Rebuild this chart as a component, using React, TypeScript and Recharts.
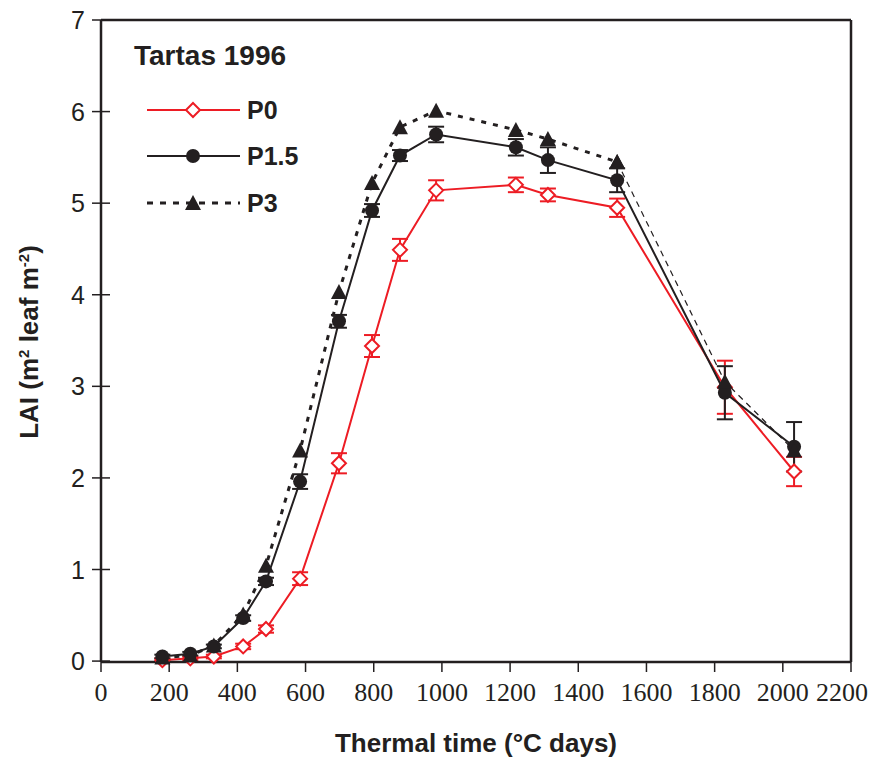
import React from 'react';
import { LineChart, Line, XAxis, YAxis, ErrorBar, ReferenceLine, Legend, Label } from 'recharts';

const thermalTime = [180, 262, 331, 417, 484, 584, 698, 795, 877, 983, 1217, 1311, 1514, 1830, 2033];
const p0 = [0.01, 0.03, 0.05, 0.16, 0.35, 0.9, 2.16, 3.44, 4.49, 5.14, 5.2, 5.09, 4.95, 2.99, 2.07];
const p0Err = [0.02, 0.02, 0.02, 0.03, 0.04, 0.07, 0.11, 0.12, 0.12, 0.11, 0.08, 0.07, 0.1, 0.29, 0.16];
const p15 = [0.05, 0.08, 0.16, 0.47, 0.87, 1.96, 3.71, 4.92, 5.52, 5.75, 5.61, 5.47, 5.25, 2.93, 2.34];
const p15Err = [0.02, 0.02, 0.02, 0.03, 0.04, 0.08, 0.07, 0.07, 0.06, 0.085, 0.09, 0.14, 0.13, 0.29, 0.27];
const p3 = [0.04, 0.06, 0.17, 0.51, 1.04, 2.3, 4.03, 5.22, 5.83, 6.01, 5.8, 5.7, 5.45, 3.05, 2.3];

const xTicks = [0, 200, 400, 600, 800, 1000, 1200, 1400, 1600, 1800, 2000, 2200];
const yTicks = [0, 1, 2, 3, 4, 5, 6, 7];
const seriesNames = ['P0', 'P1.5', 'P3'];
const title = 'Tartas 1996';

const LATE_START = 12;
const data = thermalTime.map((t, i) => ({
  t,
  p0: p0[i],
  p0Err: p0Err[i],
  p15: p15[i],
  p15Err: p15Err[i],
  p3Early: i <= LATE_START ? p3[i] : null,
  p3Late: i >= LATE_START ? p3[i] : null,
}));

const INK = '#231f20';
const RED = '#ed1c24';

const diamond = (cx: number, cy: number, key?: any) => (
  <path key={key} d={`M${cx},${cy - 7} L${cx + 7},${cy} L${cx},${cy + 7} L${cx - 7},${cy} Z`} fill="#fff" stroke={RED} strokeWidth={2} />
);
const circle = (cx: number, cy: number, key?: any) => <circle key={key} cx={cx} cy={cy} r={7} fill={INK} />;
const triangle = (cx: number, cy: number, key?: any) => (
  <path key={key} d={`M${cx},${cy - 8} L${cx + 8},${cy + 7} L${cx - 8},${cy + 7} Z`} fill={INK} />
);

const mkDot = (fn: any) => (props: any) => {
  const { cx, cy, index, value } = props;
  if (cx == null || cy == null || value == null) return <g key={`e${index}`} />;
  return fn(cx, cy, `d${index}`);
};

const YTick = (props: any) => {
  const { x, y, payload } = props;
  return (
    <g>
      <line x1={x - 9} x2={x + 9} y1={y} y2={y} stroke={INK} strokeWidth={1.5} />
      <text x={x - 16} y={y} dy="0.36em" textAnchor="end" fontFamily="'Liberation Sans', Arial, sans-serif" fontSize={25} fill={INK}>
        {payload.value}
      </text>
    </g>
  );
};

const XTick = (props: any) => {
  const { x, y, payload } = props;
  const isLast = payload.value === xTicks[xTicks.length - 1];
  return (
    <g>
      <line x1={x} x2={x} y1={y} y2={y + 10} stroke={INK} strokeWidth={1.5} />
      <text
        x={isLast ? x + 17 : x}
        y={y + 39}
        textAnchor={isLast ? 'end' : 'middle'}
        fontFamily="'Liberation Serif', 'Times New Roman', serif"
        fontSize={26}
        fill={INK}
      >
        {payload.value}
      </text>
    </g>
  );
};

const LegendBox = () => {
  const rows = [
    { y: 102, name: seriesNames[0], stroke: RED, dash: undefined, mark: diamond },
    { y: 148, name: seriesNames[1], stroke: INK, dash: undefined, mark: circle },
    { y: 195, name: seriesNames[2], stroke: INK, dash: '6 7', mark: triangle },
  ];
  return (
    <svg width={320} height={230} style={{ overflow: 'visible' }}>
      <text x={126} y={57} fontFamily="'Liberation Sans', Arial, sans-serif" fontWeight="bold" fontSize={28} fill={INK}>
        {title}
      </text>
      {rows.map((r) => (
        <g key={r.name}>
          <line x1={139} x2={232} y1={r.y} y2={r.y} stroke={r.stroke} strokeWidth={r.dash ? 3 : 2} strokeDasharray={r.dash} />
          {r.mark(185, r.y)}
          <text x={239} y={r.y} dy="0.36em" fontFamily="'Liberation Sans', Arial, sans-serif" fontWeight="bold" fontSize={25} fill={INK}>
            {r.name}
          </text>
        </g>
      ))}
    </svg>
  );
};

const YLabel = () => (
  <text
    x={21}
    y={334}
    transform="rotate(-90, 21, 334)"
    textAnchor="middle"
    dy="0.36em"
    fontFamily="'Liberation Sans', Arial, sans-serif"
    fontWeight="bold"
    fontSize={26}
    fill={INK}
  >
    LAI (m<tspan dy={-9} fontSize={15}>2</tspan>
    <tspan dy={9}> leaf  m</tspan>
    <tspan dy={-9} fontSize={15}>-2</tspan>
    <tspan dy={9}>)</tspan>
  </text>
);

export default function App() {
  return (
    <div>
      <style>{'html{overflow:hidden;} .recharts-surface{overflow:visible;} .recharts-wrapper{overflow:visible;}'}</style>
      <LineChart width={872} height={750} data={data} margin={{ top: 12, right: 29, left: 0, bottom: 0 }}>
        <XAxis
          dataKey="t"
          type="number"
          domain={[0, 2200]}
          ticks={xTicks}
          interval={0}
          height={96}
          tickSize={0}
          tickMargin={0}
          tickLine={false}
          tick={<XTick />}
          axisLine={{ stroke: INK, strokeWidth: 2.5 }}
        >
          <Label
            value="Thermal time (°C days)"
            position="insideBottom"
            offset={6}
            style={{ fontFamily: "'Liberation Sans', Arial, sans-serif", fontWeight: 'bold', fontSize: 26, fill: INK }}
          />
        </XAxis>
        <YAxis
          type="number"
          domain={[0, 7]}
          ticks={yTicks}
          interval={0}
          width={93}
          tickSize={0}
          tickMargin={0}
          tickLine={false}
          tick={<YTick />}
          axisLine={{ stroke: INK, strokeWidth: 2.5 }}
        >
          <Label content={<YLabel />} />
        </YAxis>
        <ReferenceLine y={7} stroke={INK} strokeWidth={2.5} />
        <ReferenceLine x={2200} stroke={INK} strokeWidth={2.5} />
        <Legend layout="horizontal" verticalAlign="middle" align="center" wrapperStyle={{ position: 'absolute', top: 0, left: 0, width: 320, height: 230 }} content={<LegendBox />} />
        <Line dataKey="p0" name="P0" type="linear" stroke={RED} strokeWidth={2} dot={mkDot(diamond)} activeDot={false} isAnimationActive={false}>
          <ErrorBar dataKey="p0Err" direction="y" width={8} stroke={RED} strokeWidth={2} />
        </Line>
        <Line dataKey="p15" name="P1.5" type="linear" stroke={INK} strokeWidth={2} dot={mkDot(circle)} activeDot={false} isAnimationActive={false}>
          <ErrorBar dataKey="p15Err" direction="y" width={8} stroke={INK} strokeWidth={2} />
        </Line>
        <Line dataKey="p3Early" name="P3" type="linear" stroke={INK} strokeWidth={3} strokeDasharray="5 7" dot={mkDot(triangle)} activeDot={false} connectNulls={false} isAnimationActive={false} legendType="none" />
        <Line dataKey="p3Late" name="P3 late" type="linear" stroke={INK} strokeWidth={1.2} strokeDasharray="6 5" dot={mkDot(triangle)} activeDot={false} connectNulls={false} isAnimationActive={false} legendType="none" />
      </LineChart>
    </div>
  );
}
